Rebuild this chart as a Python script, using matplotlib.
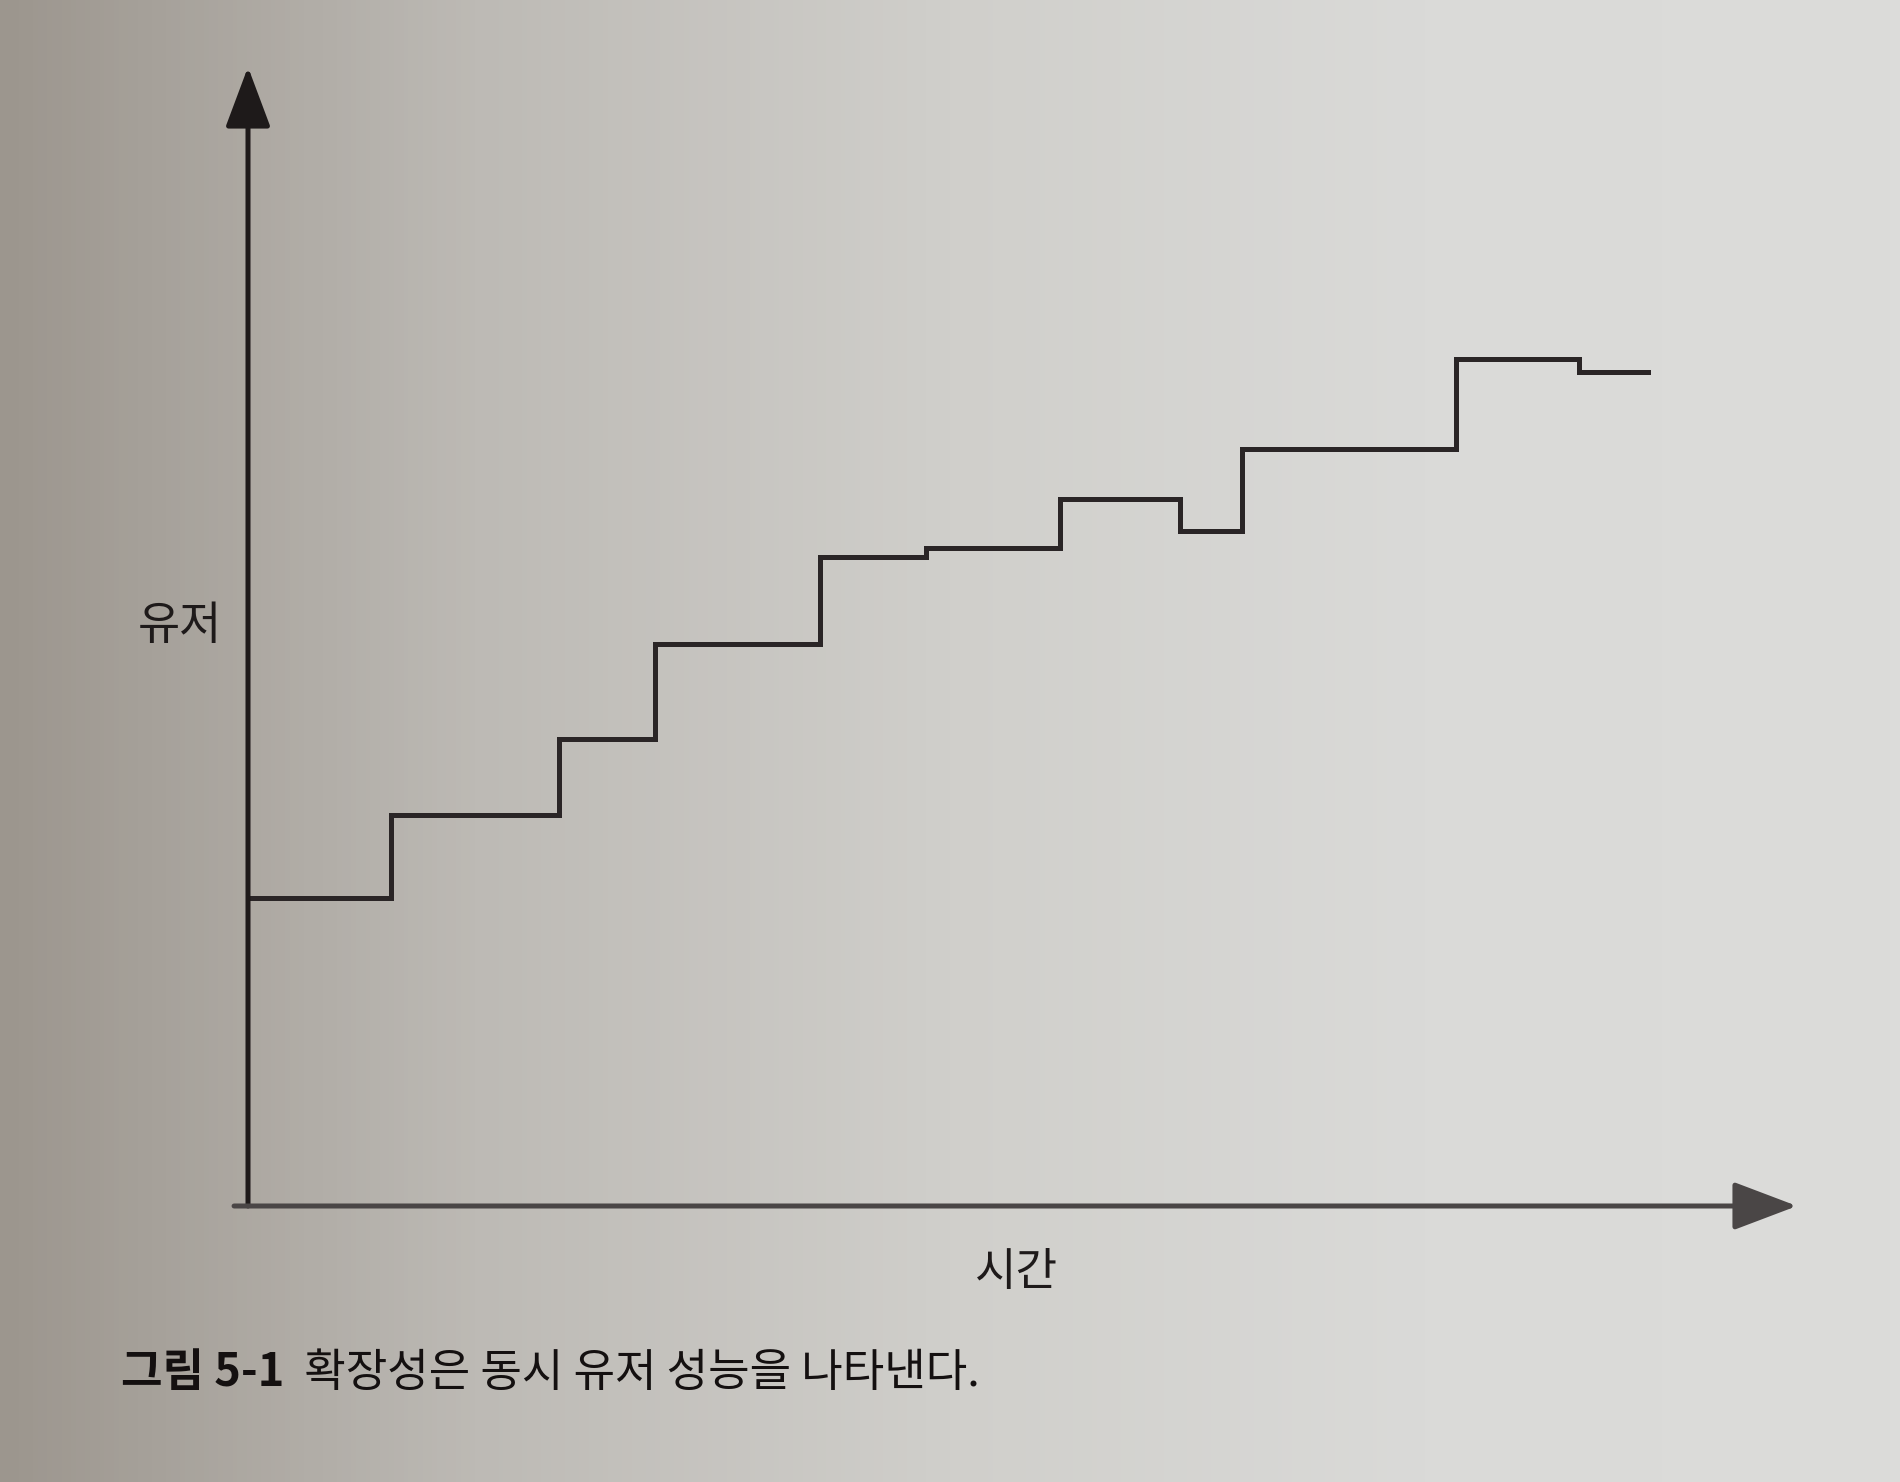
import numpy as np
import matplotlib
matplotlib.use("Agg")
import matplotlib.pyplot as plt
from matplotlib.colors import LinearSegmentedColormap

plt.rcParams['font.family'] = ['Noto Sans CJK KR', 'DejaVu Sans']

# ---- data (time vs. concurrent users, step profile) ----
times = [0, 9.2, 20.1, 26.3, 36.9, 43.8, 52.4, 60.2, 64.2, 78.0, 85.9, 90.4]
users = [27.0, 34.3, 41.0, 49.3, 57.0, 57.8, 62.1, 59.3, 66.5, 74.4, 73.2, 73.2]
x_label = "시간"
y_label = "유저"
caption_bold = "그림 5-1"
caption_text = "  확장성은 동시 유저 성능을 나타낸다."

W, H = 1900, 1482
fig = plt.figure(figsize=(W / 100, H / 100), dpi=100)

# paper-like background (darker at left edge)
bg = fig.add_axes([0, 0, 1, 1], zorder=-5)
cmap = LinearSegmentedColormap.from_list(
    "paper", ["#9c968e", "#bdbab5", "#d0cfcb", "#dadad8", "#dcdcda"])
grad = np.linspace(0, 1, 400)[None, :]
bg.imshow(grad, aspect="auto", cmap=cmap, extent=[0, 1, 0, 1])
bg.set_xlim(0, 1)
bg.set_ylim(0, 1)
bg.axis("off")

left = 248 / W
bottom = 1 - 1206 / H
width = (1797 - 248) / W
height = (1206 - 67) / H
ax = fig.add_axes([left, bottom, width, height])
ax.set_xlim(0, 100)
ax.set_ylim(0, 100)
ax.axis("off")
ax.patch.set_alpha(0)

# step line
ax.step(times, users, where="post", color="#2a2526", lw=3.6,
        solid_joinstyle="miter", zorder=3)

# axes with arrows
ax.annotate("", xy=(0, 1), xytext=(0, 0), xycoords="axes fraction",
            arrowprops=dict(arrowstyle="-|>,head_length=1.87,head_width=0.7",
                            mutation_scale=20, lw=3.6, color="#1e1a1a",
                            shrinkA=0, shrinkB=0))
ax.annotate("", xy=(1, 0), xytext=(-0.009, 0), xycoords="axes fraction",
            arrowprops=dict(arrowstyle="-|>,head_length=1.98,head_width=0.75",
                            mutation_scale=20, lw=3.6, color="#4a4646",
                            shrinkA=0, shrinkB=0))

# axis labels
fig.text(180 / W, 1 - 626 / H, y_label, fontsize=33, ha="center", va="center",
         color="#1e1a1a")
fig.text(1016 / W, 1 - 1272 / H, x_label, fontsize=32.5, ha="center", va="center",
         color="#1e1a1a")

# caption
t1 = fig.text(121 / W, 1 - 1373 / H, caption_bold, fontsize=32.5,
              fontweight="bold", ha="left", va="center", color="#141010")
plt.annotate(caption_text, xy=(1, 0.5), xycoords=t1, ha="left",
             va="center", fontsize=32.5, fontweight="medium", color="#141010",
             annotation_clip=False)

fig.savefig("out.png", dpi=100)
